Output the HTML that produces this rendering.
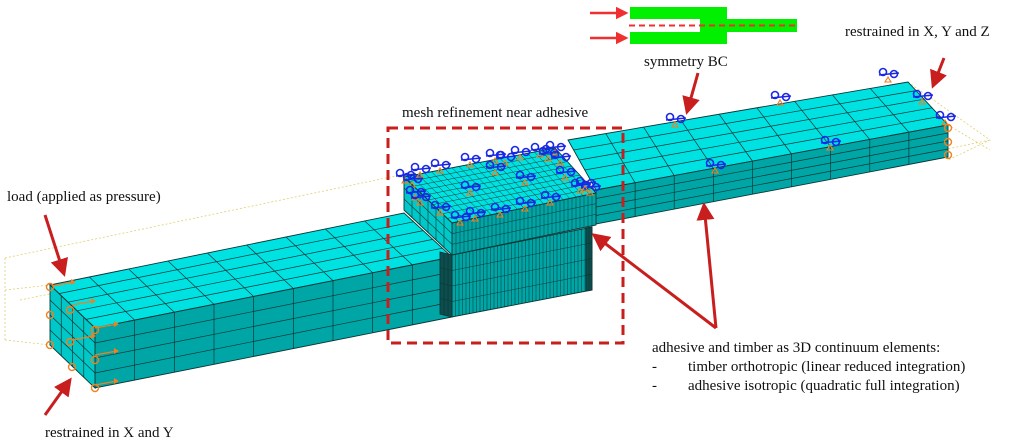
<!DOCTYPE html>
<html><head><meta charset="utf-8"><style>
html,body{margin:0;padding:0;background:#fff;}
svg{display:block;}
text{font-family:"Liberation Serif",serif;font-size:15px;fill:#111;}
</style></head><body>
<svg id="s" width="1022" height="445" viewBox="0 0 1022 445" xmlns="http://www.w3.org/2000/svg">
<defs><marker id="ah" markerWidth="6" markerHeight="6" refX="5" refY="3" orient="auto" markerUnits="strokeWidth"><path d="M0,0 L6,3 L0,6 z" fill="#c81e1e"/></marker>
<marker id="ag" markerWidth="5" markerHeight="5" refX="4" refY="2.5" orient="auto" markerUnits="strokeWidth"><path d="M0,0 L5,2.5 L0,5 z" fill="#f03030"/></marker></defs>
<g id="dots" stroke="#e0d070" stroke-width="0.8" stroke-dasharray="2,2" fill="none">
<path d="M5,258 L400,175 M5,290 L50,285 M5,340 L50,345 M5,258 L5,340 M908,82 L990,140 L948,160 M948,125 L990,150 M20,300 L440,215 M600,222 L990,140"/>
</g>
<g id="mesh"></g>
<g id="bc"></g>
<!-- inset -->
<rect x="630" y="7" width="97" height="12" fill="#00f000"/>
<rect x="700" y="19" width="97" height="13" fill="#00f000"/>
<rect x="630" y="32" width="97" height="12" fill="#00f000"/>
<line x1="629" y1="25.5" x2="797" y2="25.5" stroke="#f03030" stroke-width="2" stroke-dasharray="6,4"/>
<line x1="590" y1="13" x2="626" y2="13" stroke="#f03030" stroke-width="2.5" marker-end="url(#ag)"/>
<line x1="590" y1="38" x2="626" y2="38" stroke="#f03030" stroke-width="2.5" marker-end="url(#ag)"/>
<text x="644" y="66">symmetry BC</text>
<text x="845" y="36">restrained in X, Y and Z</text>
<text x="402" y="117">mesh refinement near adhesive</text>
<text x="7" y="201">load (applied as pressure)</text>
<text x="45" y="437">restrained in X and Y</text>
<text x="652" y="352">adhesive and timber as 3D continuum elements:</text>
<text x="652" y="371">-</text><text x="688" y="371">timber orthotropic (linear reduced integration)</text>
<text x="652" y="390">-</text><text x="688" y="390">adhesive isotropic (quadratic full integration)</text>
<rect x="388" y="128" width="235" height="215" fill="none" stroke="#c81e1e" stroke-width="3" stroke-dasharray="10,6"/>
<g stroke="#c81e1e" stroke-width="3" fill="none">
<line x1="45" y1="215" x2="64" y2="274" marker-end="url(#ah)"/>
<line x1="45" y1="415" x2="70" y2="380" marker-end="url(#ah)"/>
<line x1="698" y1="73" x2="687" y2="112" marker-end="url(#ah)"/>
<line x1="944" y1="58" x2="933" y2="86" marker-end="url(#ah)"/>
<line x1="716" y1="328" x2="594" y2="235" marker-end="url(#ah)"/>
<line x1="716" y1="328" x2="704" y2="205" marker-end="url(#ah)"/>
</g>
</svg>
<script>
var NS="http://www.w3.org/2000/svg",m=document.getElementById("mesh");
function L(a,b,t){return [a[0]+(b[0]-a[0])*t,a[1]+(b[1]-a[1])*t];}
function face(p0,p1,p2,p3,nu,nv,fill,sw){
 var pg=document.createElementNS(NS,"polygon");
 pg.setAttribute("points",[p0,p1,p2,p3].map(function(p){return p.join(",")}).join(" "));
 pg.setAttribute("fill",fill);pg.setAttribute("stroke","#0b3535");pg.setAttribute("stroke-width","0.9");m.appendChild(pg);
 var d="";
 for(var i=1;i<nu;i++){var t=i/nu,a=L(p0,p1,t),b=L(p3,p2,t);d+="M"+a+" L"+b+" ";}
 for(var j=1;j<nv;j++){var t=j/nv,a=L(p0,p3,t),b=L(p1,p2,t);d+="M"+a+" L"+b+" ";}
 var pa=document.createElementNS(NS,"path");pa.setAttribute("d",d);pa.setAttribute("stroke","#0b3535");pa.setAttribute("stroke-width",sw||"0.7");pa.setAttribute("fill","none");m.appendChild(pa);
}
var TOP="#00e2e2",FR="#00a6a6",END="#00c8c8";
face([568,140],[908,82],[948,125],[596,190],9,5,TOP);
face([596,190],[948,125],[948,157],[596,224],9,4,FR);
face([50,285],[404,213],[452,257],[95,328],9,5,TOP);
face([95,328],[452,257],[452,317],[95,388],9,4,FR);
face([50,285],[95,328],[95,388],[50,345],4,4,END);
face([452,255],[592,227],[592,290],[452,317],40,4,FR,"0.5");
face([440,252],[452,255],[452,317],[440,314],3,4,"#0d4d4d","0.6");
face([586,228],[592,227],[592,290],[586,291],2,4,"#0d4d4d","0.6");
face([404,177],[555,148],[596,193],[452,223],22,10,TOP,"0.5");
face([452,223],[596,193],[596,225],[452,255],36,3,FR,"0.5");
face([404,177],[452,223],[452,255],[404,210],6,3,END,"0.6");
var bc=document.getElementById("bc");
var pts=[[405,178],[412,182],[420,172],[440,168],[470,162],[495,158],[505,160],[520,155],[540,152],[548,156],[555,150],[560,160],[565,175],[580,188],[590,190],[585,186],[415,195],[420,200],[440,210],[460,220],[475,216],[500,212],[525,206],[550,200],[470,190],[525,180],[495,170],[675,122],[780,100],[888,77],[922,99],[945,120],[715,168],[830,145]];
pts.forEach(function(p){
 var g='<circle cx="'+(p[0]-5)+'" cy="'+(p[1]-5)+'" r="3.5" fill="none" stroke="#1a28e6" stroke-width="1.6"/><circle cx="'+(p[0]+6)+'" cy="'+(p[1]-3)+'" r="3.5" fill="none" stroke="#1a28e6" stroke-width="1.6"/><line x1="'+(p[0]-9)+'" y1="'+(p[1]-2)+'" x2="'+(p[0]+11)+'" y2="'+(p[1]-4)+'" stroke="#1a28e6" stroke-width="1.5"/><path d="M'+p[0]+','+p[1]+' l-3,5 h6z" fill="none" stroke="#f08020" stroke-width="1.1"/>';
 bc.insertAdjacentHTML("beforeend",g);
});
var or=[[50,287],[50,315],[50,345],[70,310],[70,342],[72,367],[95,330],[95,360],[95,388],[948,128],[948,142],[948,155]];
or.forEach(function(p){
 bc.insertAdjacentHTML("beforeend",'<circle cx="'+p[0]+'" cy="'+p[1]+'" r="3.5" fill="none" stroke="#f08020" stroke-width="1.4"/>');
});
[[52,286],[72,305],[95,328],[95,355],[95,385],[72,340]].forEach(function(p){
 bc.insertAdjacentHTML("beforeend",'<line x1="'+p[0]+'" y1="'+p[1]+'" x2="'+(p[0]+22)+'" y2="'+(p[1]-4)+'" stroke="#f08020" stroke-width="1.3"/><path d="M'+(p[0]+24)+','+(p[1]-4)+' l-5,-3 v6z" fill="#f08020"/>');
});
</script>
</body></html>
